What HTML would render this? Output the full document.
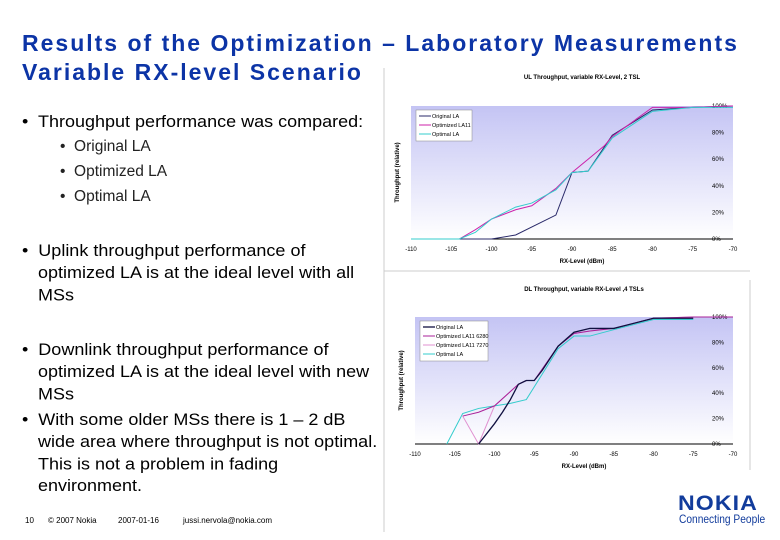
<!DOCTYPE html>
<html><head><meta charset="utf-8"><style>
body{margin:0;width:780px;height:540px;background:#fff;position:relative;overflow:hidden;font-family:"Liberation Sans",sans-serif}
.t{position:absolute;left:22px;top:29px;color:#0c34a6;font-weight:bold;font-size:23px;line-height:29px;letter-spacing:2px;white-space:nowrap}
.b{position:absolute;font-size:18px;color:#000;line-height:24.4px;transform:scaleY(0.9);transform-origin:top left}
.s{position:absolute;font-size:15.5px;color:#222}
.f{position:absolute;top:516px;font-size:8px;color:#000}
svg{position:absolute;left:0;top:0}
</style></head><body>
<div class="t">Results of the Optimization – Laboratory Measurements<br>Variable RX-level Scenario</div>
<div class="b" style="left:22px;top:111px;white-space:nowrap">•&nbsp; Throughput performance was compared:</div>
<div class="s" style="left:60px;top:138px">•&nbsp; Original LA</div>
<div class="s" style="left:60px;top:163px">•&nbsp; Optimized LA</div>
<div class="s" style="left:60px;top:188px">•&nbsp; Optimal LA</div>
<div class="b" style="left:22px;top:240px;width:340px;padding-left:16px;text-indent:-16px">•&nbsp; Uplink throughput performance of optimized LA is at the ideal level with all MSs</div>
<div class="b" style="left:22px;top:339px;width:340px;padding-left:16px;text-indent:-16px">•&nbsp; Downlink throughput performance of optimized LA is at the ideal level with new MSs</div>
<div class="b" style="left:22px;top:409px;width:345px;padding-left:16px;text-indent:-16px">•&nbsp; With some older MSs there is 1 – 2 dB wide area where throughput is not optimal. This is not a problem in fading environment.</div>
<div class="f" style="left:25px">10</div>
<div class="f" style="left:48px">© 2007 Nokia</div>
<div class="f" style="left:118px">2007-01-16</div>
<div class="f" style="left:183px">jussi.nervola@nokia.com</div>
<div style="position:absolute;left:678px;top:492px;color:#123c9c;font-weight:900;font-size:21px;letter-spacing:1px;transform:scaleX(1.1);transform-origin:left">NOKIA</div>
<div style="position:absolute;left:679px;top:512px;color:#123c9c;font-size:12px;white-space:nowrap;transform:scaleX(0.85);transform-origin:left">Connecting People</div>
<svg id="c" width="780" height="540">
<defs><linearGradient id="g" x1="0" y1="0" x2="0" y2="1"><stop offset="0" stop-color="#c4c4f4"/><stop offset="1" stop-color="#ffffff"/></linearGradient></defs>
</svg>
<script>
const xTicks=[-110,-105,-100,-95,-90,-85,-80,-75,-70];
const yTicks=[0,20,40,60,80,100];
const ulOrigX=[-110,-100,-97,-92,-90,-88,-85,-80,-75,-70];
const ulOrigY=[0,0,3,18,50,51,78,97,99,100];
const ulOptX=[-110,-104,-102,-100,-97,-95,-92,-90,-88,-86,-85,-80,-75,-70];
const ulOptY=[0,0,7,15,22,25,38,50,60,70,77,99,99,100];
const ulBestX=[-110,-104,-102,-100,-97,-95,-92,-90,-88,-85,-80,-75,-70];
const ulBestY=[0,0,5,15,24,27,37,50,51,76,96,99,99];
const dlOrigX=[-102,-100,-99,-98,-97,-96,-95,-94,-92,-90,-88,-85,-80,-75];
const dlOrigY=[0,16,25,35,47,50,50,58,77,88,91,91,99,99];
const dlOpt1X=[-104,-102,-100,-97,-96,-95,-92,-90,-88,-85,-80,-75,-70];
const dlOpt1Y=[22,25,30,47,50,50,77,87,89,91,99,100,100];
const dlOpt2X=[-104,-102,-100,-97,-96,-95,-92,-90,-88,-85,-80,-75,-70];
const dlOpt2Y=[22,0,30,47,50,50,77,87,89,91,99,100,100];
const dlBestX=[-106,-104,-102,-100,-98,-96,-95,-92,-90,-88,-85,-80,-75];
const dlBestY=[0,24,28,30,32,35,45,75,85,85,90,98,98];
const svg=document.getElementById('c');const NS='http://www.w3.org/2000/svg';
function el(t,a,txt){const e=document.createElementNS(NS,t);for(const k in a)e.setAttribute(k,a[k]);if(txt!==undefined)e.textContent=txt;svg.appendChild(e);return e;}
function chart(L,R,T,B,title,titleY,series,legend,lw,id){
 const sx=v=>L+(v+110)/40*(R-L), sy=v=>B-v/100*(B-T);
 let r=el('rect',{x:L,y:T,width:R-L,height:B-T,fill:'url(#g)'});
 
 let t=el('text',{x:(L+R)/2+10,y:titleY,'font-size':6,'font-weight':'bold','text-anchor':'middle'},title);
 
 el('line',{x1:L,y1:B,x2:R,y2:B,stroke:'#000','stroke-width':1});
 xTicks.forEach(v=>{let x=el('text',{x:sx(v),y:B+12,'font-size':6,'text-anchor':'middle'},v);
  });
 yTicks.forEach(v=>{let y=el('text',{x:R-21,y:sy(v)+2,'font-size':6},v+'%');
  });
 let xa=el('text',{x:(L+R)/2+10,y:B+24,'font-size':6,'font-weight':'bold','text-anchor':'middle'},'RX-Level (dBm)');
 
 let ya=el('text',{x:0,y:0,'font-size':6,'font-weight':'bold','text-anchor':'middle',transform:`translate(${L-12},${(T+B)/2}) rotate(-90)`},'Throughput (relative)');
 
 series.forEach(s=>{let p=el('polyline',{points:s.x.map((v,i)=>sx(v)+','+sy(s.y[i])).join(' '),fill:'none',stroke:s.c,'stroke-width':s.w||1});
  });
 let lg=el('rect',{x:L+5,y:T+4,width:lw,height:legend.length*9+4,fill:'#fff',stroke:'#888','stroke-width':0.5});
 
 legend.forEach((s,i)=>{const y=T+10+i*9;el('line',{x1:L+8,y1:y,x2:L+20,y2:y,stroke:s.c,'stroke-width':s.w||1});
  let e=el('text',{x:L+21,y:y+2,'font-size':5.5},s.l);});
}
const s1=[{n:'original',x:ulOrigX,y:ulOrigY,c:'#2a2a6a',l:'Original LA'},{n:'optimized',x:ulOptX,y:ulOptY,c:'#cc22aa',l:'Optimized LA11'},{n:'optimal',x:ulBestX,y:ulBestY,c:'#33cccc',l:'Optimal LA'}];
chart(411,733,106,239,'UL Throughput, variable RX-Level, 2 TSL',79,s1,s1,56,'ul');
const s2=[{n:'optimal',x:dlBestX,y:dlBestY,c:'#33cccc',l:'Optimal LA'},{n:'opt7270',x:dlOpt2X,y:dlOpt2Y,c:'#e090d0',l:'Optimized LA11 7270'},{n:'opt6280',x:dlOpt1X,y:dlOpt1Y,c:'#aa2299',l:'Optimized LA11 6280'},{n:'original',x:dlOrigX,y:dlOrigY,c:'#101040',w:1.3,l:'Original LA'}];
chart(415,733,317,444,'DL Throughput, variable RX-Level ,4 TSLs',291,s2,[s2[3],s2[2],s2[1],s2[0]],68,'dl');
el('line',{x1:384,y1:68,x2:384,y2:532,stroke:'#ccc','stroke-width':1});
el('line',{x1:384,y1:271,x2:750,y2:271,stroke:'#ccc','stroke-width':1});
el('line',{x1:750,y1:280,x2:750,y2:470,stroke:'#ccc','stroke-width':1});
</script>
</body></html>
